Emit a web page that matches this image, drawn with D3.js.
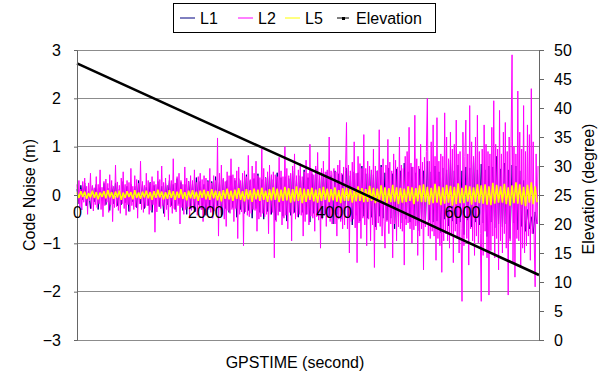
<!DOCTYPE html>
<html>
<head>
<meta charset="utf-8">
<script src="https://cdn.jsdelivr.net/npm/d3@7"></script>
<style>
  body { margin: 0; background: #fff; }
  svg { display: block; font-family: "Liberation Sans", Arial, sans-serif; }
</style>
</head>
<body>
<svg id="chart" width="610" height="379"></svg>
<script>
// sample spacing (seconds) of each noise series
const stepL1 = 30
const stepL2 = 15
const stepL5 = 30

// code noise (m)
const noiseL1 = [
  0.12,-0.18,0.20,-0.10,0.25,-0.22,0.08,-0.28,0.18,-0.14,
  0.22,-0.30,0.15,-0.12,0.24,-0.20,0.14,-0.32,0.20,-0.18,
  0.25,-0.22,0.12,-0.20,0.28,-0.16,0.18,-0.34,0.22,-0.14,
  0.18,-0.26,0.30,-0.18,0.22,-0.28,0.16,-0.22,0.26,-0.36,
  0.20,-0.18,0.28,-0.24,0.18,-0.38,0.24,-0.20,0.30,-0.22,
  0.22,-0.30,0.34,-0.18,0.26,-0.32,0.22,-0.40,0.28,-0.24,
  0.24,-0.34,0.36,-0.20,0.28,-0.30,0.22,-0.42,0.30,-0.26,
  0.28,-0.34,0.38,-0.22,0.26,-0.44,0.32,-0.28,0.30,-0.36,
  0.40,-0.26,0.30,-0.46,0.34,-0.30,0.28,-0.38,0.42,-0.32,
  0.30,-0.48,0.34,-0.28,0.44,-0.36,0.32,-0.50,0.36,-0.34,
  0.40,-0.40,0.32,-0.52,0.46,-0.34,0.36,-0.44,0.38,-0.54,
  0.34,-0.42,0.50,-0.36,0.30,-0.46,0.40,-0.36,0.52,-0.40,
  0.36,-0.56,0.44,-0.38,0.54,-0.42,0.36,-0.48,0.46,-0.40,
  0.48,-0.44,0.40,-0.60,0.50,-0.40,0.44,-0.50,0.42,-0.46,
  0.56,-0.44,0.40,-0.62,0.48,-0.42,0.46,-0.54,0.60,-0.44,
  0.44,-0.48,0.52,-0.46,0.42,-0.66,0.50,-0.44,0.62,-0.48,
  0.46,-0.52,0.56,-0.48,0.44,-0.70,0.54,-0.46,0.50,-0.58,
  0.66,-0.50,0.48,-0.56,0.58,-0.50,0.46,-0.74,0.54,-0.50,
  0.50,-0.60,0.70,-0.52,0.48,-0.56,0.60,-0.54,0.48,-0.78,
  0.56,-0.50,0.52,-0.64,0.72,-0.54,0.50,-0.60,0.62,-0.56,
  0.50,-0.82,0.58,-0.52,0.56,-0.66,0.76,-0.56,0.52,-0.62,
  0.64,-0.58,0.52,-0.86,0.60,-0.56,0.58,-0.68,0.80,-0.60,
  0.54,-0.66,0.66,-0.60,0.52,-0.90,0.62,-0.58,0.60,-0.72,
  0.50,-0.65,0.30,-0.75,-0.30,-0.70,-0.45,-0.80,-0.35,-0.60
]
const noiseL2 = [
  0.22,-0.18,0.30,-0.25,0.12,-0.31,0.28,-0.15,0.35,-0.22,
  0.18,-0.40,0.25,-0.12,0.45,-0.28,0.20,-0.33,0.15,-0.20,
  0.38,-0.26,0.22,-0.18,0.52,-0.30,0.16,-0.45,0.28,-0.22,
  0.33,-0.15,0.24,-0.36,0.42,-0.20,0.30,-0.55,0.18,-0.26,
  0.62,-0.24,0.27,-0.32,0.20,-0.38,0.35,-0.18,0.48,-0.28,
  0.22,-0.42,0.30,-0.20,0.26,-0.34,0.55,-0.22,0.18,-0.30,
  0.40,-0.25,0.32,-0.48,0.24,-0.18,0.70,-0.30,0.28,-0.36,
  0.20,-0.26,0.45,-0.22,0.30,-0.40,0.25,-0.32,0.38,-0.20,
  0.28,-0.77,0.22,-0.35,0.50,-0.24,0.32,-0.28,0.60,-0.22,
  0.26,-0.45,0.35,-0.30,0.20,-0.52,0.42,-0.25,0.30,-0.38,
  0.75,-0.28,0.25,-0.35,0.38,-0.22,0.45,-0.60,0.30,-0.26,
  0.22,-0.40,0.58,-0.30,0.35,-0.24,0.28,-0.48,0.40,-0.32,
  0.30,-0.28,0.52,-0.35,0.26,-0.42,0.38,-0.25,0.45,-0.30,
  0.32,-0.55,0.40,-0.28,
  0.35,-0.42,0.28,-0.30,0.55,-0.36,0.25,-0.48,0.40,-0.32,
  0.30,-0.38,1.18,-0.85,0.45,-0.30,0.62,-0.40,0.35,-0.50,
  0.28,-0.65,0.48,-0.32,0.40,-0.38,0.75,-0.30,0.42,-0.55,
  0.35,-0.28,0.50,-0.90,0.58,-0.40,0.30,-0.35,0.45,-1.05,
  0.50,-0.35,0.38,-0.42,0.82,-0.45,0.32,-0.38,0.60,-0.30,
  0.45,-0.32,0.70,-0.75,0.40,-0.50,0.36,-0.45,0.95,-0.38,
  0.55,-0.45,0.35,-0.40,0.48,-0.80,0.62,-0.40,0.42,-0.36,
  0.48,-1.30,0.42,-0.55,0.38,-0.42,0.78,-0.35,0.50,-0.62,
  0.38,-0.48,1.00,-0.42,0.55,-0.70,0.40,-0.36,0.45,-0.95,
  0.60,-0.38,0.85,-0.50,0.40,-0.45,0.52,-0.40,0.65,-0.42,
  0.38,-0.85,0.48,-0.55,0.72,-0.40,0.45,-0.62,1.05,-0.44,
  0.50,-0.48,0.42,-0.75,0.60,-0.45,0.88,-0.52,0.46,-1.10,
  0.55,-0.50,0.70,-0.42,0.48,-0.65,0.52,-0.46,1.20,-0.55,
  0.50,-0.60,0.45,
  0.55,-0.60,0.48,-0.85,0.62,-0.50,0.72,-0.55,0.45,-0.70,
  0.58,-0.62,0.50,1.50,-0.70,0.62,-1.20,0.50,-0.55,0.68,
  -0.50,1.10,-0.68,0.45,-1.40,0.80,-0.58,0.65,-0.90,0.55,
  -0.48,1.25,-0.62,0.55,-1.05,0.70,-0.50,0.60,-0.95,0.52,
  -0.62,0.95,-1.50,0.60,-0.72,0.50,-0.58,1.35,-0.65,0.58,
  -0.85,0.75,-0.55,-1.10,0.62,-0.55,1.15,-0.80,0.68,-0.60,
  0.50,-1.30,0.85,-0.60,0.72,-0.95,0.58,-0.66,1.20,-0.70,
  0.62,-0.75,0.55,-1.45,0.80,-0.62,0.90,-0.58,1.40,-0.70,
  0.66,-1.00,0.58,-0.72,1.65,-0.64,0.75,-1.25,0.60,-0.85,
  1.05,-0.70,0.68,-1.55,0.78,-0.66,0.90,2.00,-0.85,0.70,
  -0.90,1.10,-0.75,1.45,-0.85,0.80,-1.35,1.60,-0.90,0.70,
  -1.05,0.85,-1.60,0.80,-0.95,1.70,-0.80,1.20,-0.95,0.75,
  -1.10,1.30,-0.85,0.95,-1.40,1.05,-0.75,1.55,-0.90,0.85,
  -1.20,0.90,-0.70,-2.20,1.30,-1.05,0.80,1.55,-0.90,0.85,
  -1.45,1.85,-0.70,1.10,-0.95,0.80,-1.25,1.20,-0.85,1.65,
  -1.00,0.90,-0.80,-2.20,0.95,-1.25,1.45,-0.75,1.05,-1.30,
  0.90,-2.07,0.85,-1.15,1.40,-0.85,1.95,-1.30,1.05,-0.90,
  0.95,-1.55,1.75,-0.95,0.85,-1.20,1.30,-0.80,1.50,-1.10,
  0.90,-2.07,1.20,-0.95,1.10,2.90,-1.40,1.00,-1.70,0.85,
  -0.90,2.15,-0.95,1.30,-1.50,0.95,-1.10,1.85,-1.20,0.90,
  -1.05,1.45,-0.85,1.25,-1.35,2.20,-0.80,1.10,-0.95,-1.90,
  0.85,-0.60,0.60
]
const noiseL5 = [
  0.05,-0.06,0.08,-0.04,0.07,-0.08,0.04,-0.05,0.09,-0.06,
  0.06,-0.09,0.05,-0.04,0.08,-0.07,0.10,-0.05,0.06,-0.08,
  0.07,-0.05,0.09,-0.10,0.05,-0.06,0.08,-0.04,0.06,-0.09,
  0.10,-0.06,0.05,-0.08,0.07,-0.05,0.09,-0.07,0.06,-0.10,
  0.08,-0.06,0.11,-0.05,0.07,-0.09,0.06,-0.08,0.10,-0.06,
  0.08,-0.10,0.07,-0.06,0.12,-0.08,0.06,-0.11,0.09,-0.07,
  0.10,-0.08,0.07,-0.12,0.09,-0.06,0.11,-0.09,0.08,-0.10,
  0.12,-0.07,0.09,-0.11,0.08,-0.13,0.10,-0.08,0.13,-0.09,
  0.09,-0.12,0.11,-0.08,0.14,-0.10,0.08,-0.13,0.12,-0.09,
  0.10,-0.14,0.13,-0.09,0.11,-0.12,0.15,-0.10,0.09,-0.14,
  0.12,-0.11,0.16,-0.10,0.13,-0.15,0.11,-0.12,0.17,-0.11,
  0.14,-0.16,0.12,-0.13,0.18,-0.12,0.15,-0.17,0.13,-0.14,
  0.12,-0.10,0.15,-0.13,0.11,-0.16,0.14,-0.12,0.17,-0.10,
  0.13,-0.15,0.12,-0.11,0.16,-0.14,0.10,-0.17,0.14,-0.12,
  0.15,-0.12,0.14,-0.16,0.12,-0.13,0.18,-0.12,0.14,-0.15,
  0.12,-0.14,0.19,-0.12,0.15,-0.17,0.13,-0.15,0.20,-0.13,
  0.16,-0.18,0.14,-0.15,0.21,-0.14,0.16,-0.19,0.15,-0.16,
  0.13,-0.15,0.18,-0.12,0.16,-0.19,0.14,-0.13,0.20,-0.15,
  0.22,-0.15,0.17,-0.20,0.15,-0.17,0.23,-0.16,0.18,-0.21,
  0.16,-0.18,0.21,-0.16,0.19,-0.22,0.17,-0.19,0.24,-0.17,
  0.15,-0.17,0.20,-0.14,0.18,-0.20,0.16,-0.15,0.22,-0.17,
  0.20,-0.18,0.22,-0.20,0.18,-0.21,0.25,-0.18,0.21,-0.16,
  0.18,-0.16,0.23,-0.19,0.16,-0.22,0.20,-0.17,0.26,-0.18,
  0.22,-0.20,0.17,-0.23,0.21,-0.16,0.26,-0.19,0.18,-0.15
]

// elevation (degree) against GPS time
const elevTime = [0, 2000, 4000, 6000, 7200]
const elevDeg = [47.7, 37.6, 27.6, 17.3, 11.2]

const xTicks = [0, 2000, 4000, 6000]
const yTicks = [-3, -2, -1, 0, 1, 2, 3]
const y2Ticks = [0, 5, 10, 15, 20, 25, 30, 35, 40, 45, 50]

const legendItems = [
  { name: 'L1', color: '#000080' },
  { name: 'L2', color: '#ff00ff' },
  { name: 'L5', color: '#ffff00' },
  { name: 'Elevation', color: '#000000' }
]

const svg = d3.select('#chart')
const plotL = 77, plotR = 539, plotT = 50, plotB = 340

const x = d3.scaleLinear().domain([0, 7200]).range([plotL, plotR])
const y = d3.scaleLinear().domain([-3, 3]).range([plotB, plotT])
const y2 = d3.scaleLinear().domain([0, 50]).range([plotB, plotT])

// gridlines
svg.append('g')
  .selectAll('line')
  .data(yTicks)
  .enter().append('line')
  .attr('x1', plotL).attr('x2', plotR)
  .attr('y1', d => y(d)).attr('y2', d => y(d))
  .attr('stroke', '#8c8c8c')
  .attr('stroke-width', 1)
  .attr('shape-rendering', 'crispEdges')

// noise series, L1 under L2 under L5
function drawNoise(values, step, color, width) {
  let line = d3.line()
    .x((d, i) => x(i * step))
    .y(d => y(d))
  svg.append('path')
    .datum(values)
    .attr('d', line)
    .attr('fill', 'none')
    .attr('stroke', color)
    .attr('stroke-width', width)
    .attr('stroke-linejoin', 'bevel')
}
drawNoise(noiseL1, stepL1, '#000080', 1)
drawNoise(noiseL2, stepL2, '#ff00ff', 1)
drawNoise(noiseL5, stepL5, '#ffff00', 1.6)

// elevation line
let elevLine = d3.line()
  .x((d, i) => x(elevTime[i]))
  .y(d => y2(d))
svg.append('path')
  .datum(elevDeg)
  .attr('d', elevLine)
  .attr('fill', 'none')
  .attr('stroke', '#000')
  .attr('stroke-width', 2.6)

// left axis
let yAxis = svg.append('g')
  .attr('transform', `translate(${plotL},0)`)
  .call(d3.axisLeft(y).tickValues(yTicks).tickSize(3).tickPadding(13).tickFormat(d => d < 0 ? '\u2212' + Math.abs(d) : d))
yAxis.select('.domain').attr('stroke', '#666')
yAxis.selectAll('.tick line').attr('stroke', '#666')
yAxis.selectAll('text').attr('font-size', 16).attr('fill', '#000')

// right axis
let y2Axis = svg.append('g')
  .attr('transform', `translate(${plotR},0)`)
  .call(d3.axisRight(y2).tickValues(y2Ticks).tickSize(5).tickPadding(10))
y2Axis.select('.domain').attr('stroke', '#666')
y2Axis.selectAll('.tick line').attr('stroke', '#666')
y2Axis.selectAll('text').attr('font-size', 16).attr('fill', '#000')

// x tick labels sit under the zero line
let xAxis = svg.append('g')
  .attr('transform', `translate(0,${y(0)})`)
  .call(d3.axisBottom(x).tickValues(xTicks).tickSize(0).tickPadding(12).tickFormat(d3.format('d')))
xAxis.select('.domain').remove()
xAxis.selectAll('text').attr('font-size', 16).attr('fill', '#000')

// axis titles
svg.append('text')
  .attr('transform', `translate(31,${(plotT + plotB) / 2}) rotate(-90)`)
  .attr('text-anchor', 'middle')
  .attr('dominant-baseline', 'middle')
  .attr('font-size', 16)
  .text('Code Noise (m)')

svg.append('text')
  .attr('transform', `translate(590,${(plotT + plotB) / 2 - 6}) rotate(-90)`)
  .attr('text-anchor', 'middle')
  .attr('dominant-baseline', 'middle')
  .attr('font-size', 16)
  .text('Elevation (degree)')

svg.append('text')
  .attr('x', 295).attr('y', 368)
  .attr('text-anchor', 'middle')
  .attr('font-size', 16)
  .text('GPSTIME (second)')

// legend
let legend = svg.append('g').attr('id', 'legend')
legend.append('rect')
  .attr('x', 173.5).attr('y', 3.5)
  .attr('width', 262).attr('height', 29)
  .attr('fill', '#fff')
  .attr('stroke', '#000')

let legendX = [180, 238, 285, 337]
let items = legend.selectAll('.item')
  .data(legendItems).enter().append('g')
  .attr('class', 'item')
  .attr('transform', (d, i) => `translate(${legendX[i]},18)`)
items.append('line')
  .attr('x1', 0).attr('x2', d => d.name === 'Elevation' ? 12 : 15)
  .attr('stroke', d => d.color)
  .attr('stroke-width', 1)
items.filter(d => d.name === 'Elevation').append('rect')
  .attr('x', 5).attr('y', -1).attr('width', 3).attr('height', 3)
  .attr('fill', '#000')
items.append('text')
  .attr('x', d => d.name === 'Elevation' ? 19 : 20)
  .attr('y', 6)
  .attr('font-size', 16)
  .text(d => d.name)
</script>
</body>
</html>
